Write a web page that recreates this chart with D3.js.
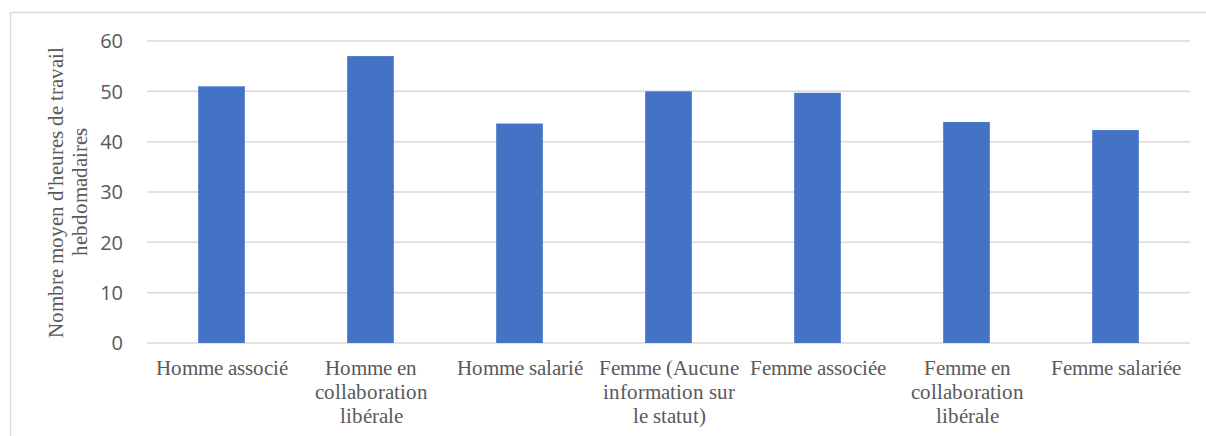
<!DOCTYPE html>
<html lang="fr">
<head>
<meta charset="utf-8">
<script src="https://cdn.jsdelivr.net/npm/d3@7"></script>
<style>
  @font-face { font-family: 'LabelSerif'; src: local('Liberation Serif'), local('LiberationSerif'), local('Times New Roman'); }
  body { margin: 0; background: #fff; }
  .serif { font-family: 'LabelSerif', 'Liberation Serif', 'Times New Roman', serif; font-size: 21px; fill: #595959; }
</style>
</head>
<body>
<script>
// data
const categories = [
  ["Homme associé"],
  ["Homme en", "collaboration", "libérale"],
  ["Homme salarié"],
  ["Femme (Aucune", "information sur", "le statut)"],
  ["Femme associée"],
  ["Femme en", "collaboration", "libérale"],
  ["Femme salariée"]
];
const heures = [51, 57, 43.6, 50, 49.7, 43.9, 42.3];
const yTicks = [0, 10, 20, 30, 40, 50, 60];
const yTitle = ["Nombre moyen d'heures de travail", "hebdomadaires"];

// canvas and plot area
const width = 1206, height = 436;
const plotLeft = 147, plotRight = 1190, plotTop = 41, plotBottom = 343;
const lineGap = 24;

const svg = d3.select("body").append("svg")
  .attr("width", width).attr("height", height);

// outer chart border (cut off at right and bottom)
svg.append("rect")
  .attr("x", 10.5).attr("y", 12.5)
  .attr("width", 1220).attr("height", 460)
  .attr("fill", "white")
  .attr("stroke", "#d9d9d9")
  .attr("stroke-width", 1.5);

const x = d3.scaleBand()
  .domain(d3.range(categories.length))
  .range([plotLeft, plotRight])
  .paddingInner(0.687)
  .paddingOuter(0.3435);

const y = d3.scaleLinear().domain([0, 60]).range([plotBottom, plotTop]);

// gridlines
svg.selectAll(".grid")
  .data(yTicks).enter()
  .append("line")
  .attr("class", "grid")
  .attr("x1", plotLeft).attr("x2", plotRight)
  .attr("y1", d => y(d)).attr("y2", d => y(d))
  .attr("stroke", "#d9d9d9")
  .attr("stroke-width", 1.5);

// y tick labels
svg.selectAll(".ytick")
  .data(yTicks).enter()
  .append("text")
  .attr("class", "ytick")
  .attr("x", plotLeft - 24)
  .attr("y", d => y(d))
  .attr("dy", "0.36em")
  .attr("text-anchor", "end")
  .style("font-family", "'Open Sans', sans-serif")
  .style("font-size", "20px")
  .attr("fill", "#595959")
  .text(d => d);

// bars
svg.selectAll(".bar")
  .data(heures).enter()
  .append("rect")
  .attr("class", "bar")
  .attr("x", (d, i) => x(i))
  .attr("width", x.bandwidth())
  .attr("y", d => y(d))
  .attr("height", d => y(0) - y(d))
  .attr("fill", "#4472c4");

// x labels, one text element per line
categories.forEach((lines, i) => {
  lines.forEach((line, j) => {
    svg.append("text")
      .attr("class", "serif")
      .attr("text-anchor", "middle")
      .attr("x", Math.round(x(i) + x.bandwidth() / 2))
      .attr("y", 375 + j * lineGap)
      .text(line);
  });
});

// y axis title
yTitle.forEach((line, j) => {
  svg.append("text")
    .attr("class", "serif")
    .attr("transform", `translate(${63 + j * lineGap},192) rotate(-90)`)
    .attr("text-anchor", "middle")
    .text(line);
});
</script>
</body>
</html>
